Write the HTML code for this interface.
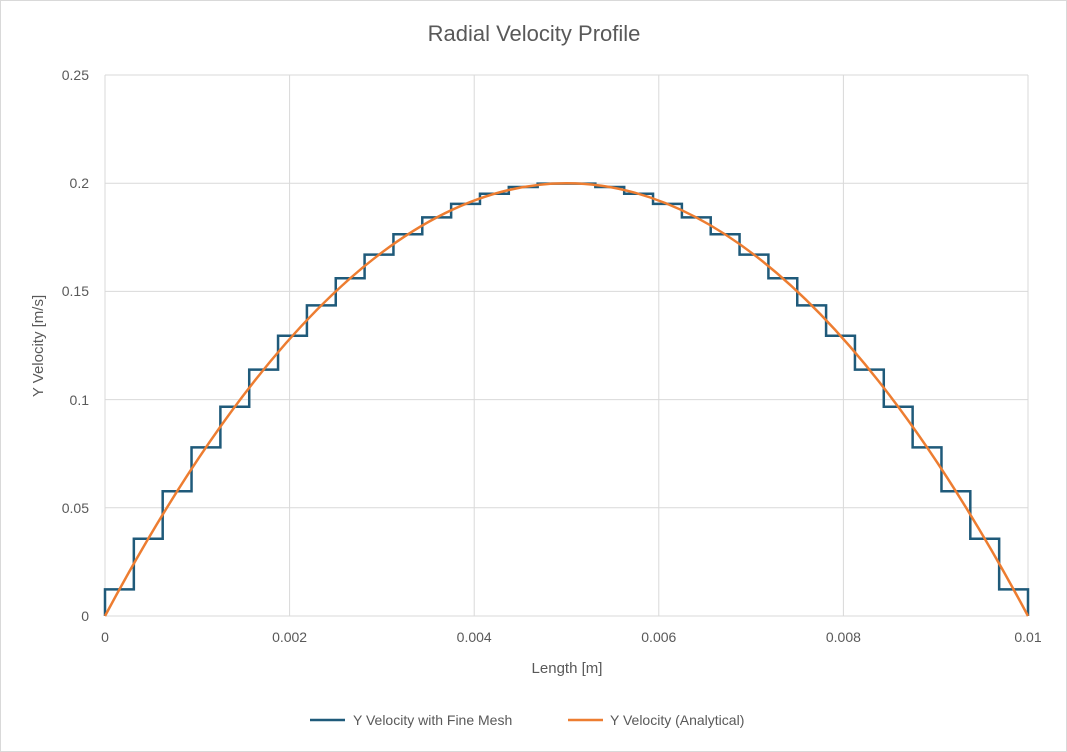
<!DOCTYPE html>
<html><head><meta charset="utf-8"><style>
html,body{margin:0;padding:0;background:#fff;}
svg{display:block;font-family:"Liberation Sans",sans-serif;}
</style></head><body>
<svg width="1067" height="752" viewBox="0 0 1067 752">
<rect x="0.5" y="0.5" width="1066" height="751" fill="#fff" stroke="#d9d9d9"/>
<text x="534" y="41" text-anchor="middle" font-size="22" fill="#595959">Radial Velocity Profile</text>
<g stroke="#d9d9d9" stroke-width="1">
<line x1="105" y1="75" x2="1028" y2="75"/>
<line x1="105" y1="183.2" x2="1028" y2="183.2"/>
<line x1="105" y1="291.4" x2="1028" y2="291.4"/>
<line x1="105" y1="399.6" x2="1028" y2="399.6"/>
<line x1="105" y1="507.8" x2="1028" y2="507.8"/>
<line x1="105" y1="616" x2="1028" y2="616"/>
<line x1="105" y1="75" x2="105" y2="616"/>
<line x1="289.6" y1="75" x2="289.6" y2="616"/>
<line x1="474.2" y1="75" x2="474.2" y2="616"/>
<line x1="658.8" y1="75" x2="658.8" y2="616"/>
<line x1="843.4" y1="75" x2="843.4" y2="616"/>
<line x1="1028" y1="75" x2="1028" y2="616"/>
</g>
<g font-size="14" fill="#595959" text-anchor="end">
<text x="89" y="80">0.25</text>
<text x="89" y="188">0.2</text>
<text x="89" y="296">0.15</text>
<text x="89" y="405">0.1</text>
<text x="89" y="513">0.05</text>
<text x="89" y="621">0</text>
</g>
<g font-size="14" fill="#595959" text-anchor="middle">
<text x="105" y="642">0</text>
<text x="289.6" y="642">0.002</text>
<text x="474.2" y="642">0.004</text>
<text x="658.8" y="642">0.006</text>
<text x="843.4" y="642">0.008</text>
<text x="1028" y="642">0.01</text>
</g>
<text x="567" y="673" text-anchor="middle" font-size="15" fill="#595959">Length [m]</text>
<text transform="translate(43,346) rotate(-90)" text-anchor="middle" font-size="15" fill="#595959">Y Velocity [m/s]</text>
<path fill="none" stroke="#1f5a7a" stroke-width="2.5" d="M105,616 V589.4 H133.84 V538.7 H162.69 V491.3 H191.53 V447.4 H220.38 V406.8 H249.22 V369.6 H278.06 V335.8 H306.91 V305.4 H335.75 V278.3 H364.59 V254.6 H393.44 V234.3 H422.28 V217.4 H451.13 V203.9 H479.97 V193.8 H508.81 V187.0 H537.66 V183.6 H595.34 V187.0 H624.19 V193.8 H653.03 V203.9 H681.88 V217.4 H710.72 V234.3 H739.56 V254.6 H768.41 V278.3 H797.25 V305.4 H826.09 V335.8 H854.94 V369.6 H883.78 V406.8 H912.63 V447.4 H941.47 V491.3 H970.31 V538.7 H999.16 V589.4 H1028 V616"/>
<path fill="none" stroke="#ed7d31" stroke-width="2.5" d="M105,616 Q566.5,-249.6 1028,616"/>
<line x1="310" y1="720" x2="345" y2="720" stroke="#1f5a7a" stroke-width="2.5"/>
<text x="353" y="725" font-size="14" fill="#595959">Y Velocity with Fine Mesh</text>
<line x1="568" y1="720" x2="603" y2="720" stroke="#ed7d31" stroke-width="2.5"/>
<text x="610" y="725" font-size="14" fill="#595959">Y Velocity (Analytical)</text>
</svg>
</body></html>
